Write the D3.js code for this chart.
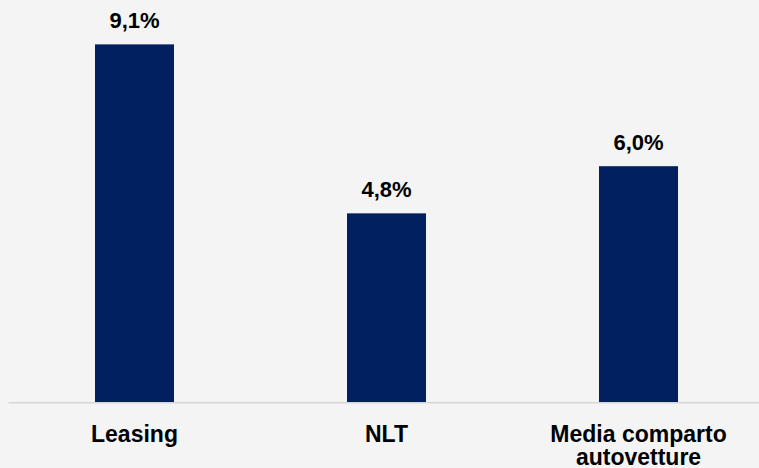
<!DOCTYPE html>
<html>
<head>
<meta charset="utf-8">
<script src="https://cdn.jsdelivr.net/npm/d3@7"></script>
<style>
	html, body { margin: 0; padding: 0; background: #f4f4f4; }
	svg { display: block; }
	text { font-family: Arial, "Liberation Sans", sans-serif; font-weight: bold; fill: #000; }
</style>
</head>
<body>
<div id="chart"></div>
<script>
// data
var categories = ['Leasing', 'NLT', 'Media comparto autovetture'];
var labelLines = [['Leasing'], ['NLT'], ['Media comparto', 'autovetture']];
var values = [9.1, 4.8, 6.0];
var valueLabels = ['9,1%', '4,8%', '6,0%'];

var width = 759,
	height = 468,
	baseY = 402;

var svg = d3.select('#chart').append('svg')
	.attr('width', width)
	.attr('height', height);

svg.append('rect')
	.attr('width', width)
	.attr('height', height)
	.attr('fill', '#f4f4f4');

var xScale = d3.scaleBand()
	.domain(categories)
	.range([8.5, 764.5])
	.paddingInner(0.6865)
	.paddingOuter(0.34325);

var yScale = d3.scaleLinear()
	.domain([0, 10])
	.range([baseY, 9]);

// bars
svg.selectAll('.bar')
	.data(values)
	.enter().append('rect')
	.attr('class', 'bar')
	.attr('x', function(d, i) { return xScale(categories[i]); })
	.attr('y', function(d) { return yScale(d); })
	.attr('width', xScale.bandwidth())
	.attr('height', function(d) { return yScale(0) - yScale(d); })
	.attr('fill', '#002060');

// baseline
svg.append('line')
	.attr('x1', xScale.range()[0])
	.attr('x2', width)
	.attr('y1', yScale(0) + 0.8)
	.attr('y2', yScale(0) + 0.8)
	.attr('stroke', '#d6d6d6')
	.attr('stroke-width', 1.6);

// value labels
svg.selectAll('.value')
	.data(values)
	.enter().append('text')
	.attr('class', 'value')
	.attr('x', function(d, i) { return xScale(categories[i]) + xScale.bandwidth() / 2; })
	.attr('y', function(d) { return yScale(d) - 16.5; })
	.attr('text-anchor', 'middle')
	.attr('font-size', 22)
	.text(function(d, i) { return valueLabels[i]; });

// category labels
var cat = svg.selectAll('.cat')
	.data(categories)
	.enter().append('text')
	.attr('class', 'cat')
	.attr('text-anchor', 'middle')
	.attr('font-size', 23)
	.attr('x', function(d) { return xScale(d) + xScale.bandwidth() / 2; })
	.attr('y', 442);

cat.selectAll('tspan')
	.data(function(d, i) { return labelLines[i]; })
	.enter().append('tspan')
	.attr('x', function() { var p = this.parentNode; return p.getAttribute('x'); })
	.attr('dy', function(d, i) { return i === 0 ? 0 : 23; })
	.text(function(d) { return d; });
</script>
</body>
</html>
